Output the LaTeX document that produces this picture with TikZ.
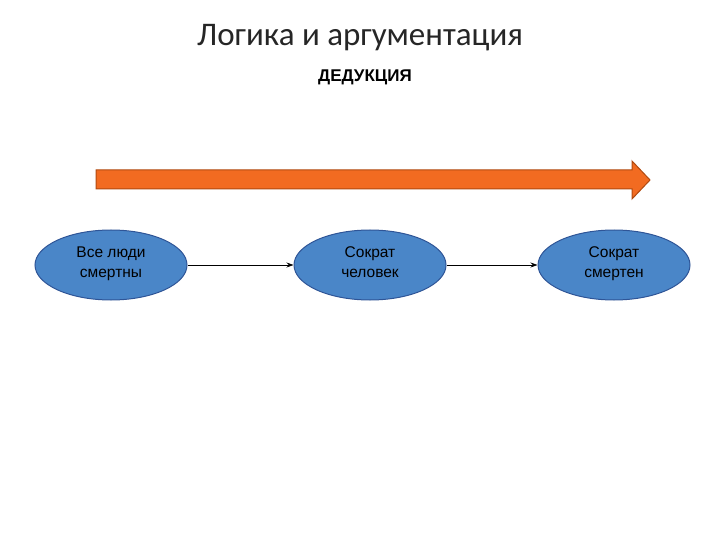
\documentclass[tikz,border=0pt]{standalone}
\usepackage{fontspec}
\setmainfont{Liberation Sans}
\newfontfamily\titlefont{Carlito}
\usetikzlibrary{shapes.geometric,arrows.meta}
\definecolor{ellfill}{HTML}{4A86C8}
\definecolor{ellline}{HTML}{2F5597}
\definecolor{arrfill}{HTML}{F26B21}
\definecolor{arrline}{HTML}{B04A10}
\tikzset{
  idea/.style={ellipse, draw=ellline, line width=1pt, fill=ellfill, minimum width=152pt, minimum height=70pt, inner sep=0pt, align=center, font=\fontsize{15.5}{20}\selectfont, text=black},
  link/.style={-{Stealth[length=7pt,width=5pt]}, line width=0.8pt}
}
\begin{document}
\begin{tikzpicture}[x=1pt,y=-1pt]
\useasboundingbox (0,0) rectangle (720,540);
\node[font=\titlefont\fontsize{33}{36}\selectfont, text=black!85] (title) at (360,38) {Логика и аргументация};
\node[font=\bfseries\fontsize{17}{19}\selectfont] (sub) at (365,77) {ДЕДУКЦИЯ};
\draw[fill=arrfill, draw=arrline, line width=1pt] (96,170) -- (632,170) -- (632,161) -- (650,180) -- (632,199) -- (632,189) -- (96,189) -- cycle;
\node[idea] (a) at (111,265) {Все люди\\смертны\strut};
\node[idea] (b) at (370,265) {Сократ\\человек\strut};
\node[idea] (c) at (614,265) {Сократ\\смертен\strut};
\draw[link] (a) -- (b);
\draw[link] (b) -- (c);
\end{tikzpicture}
\end{document}
